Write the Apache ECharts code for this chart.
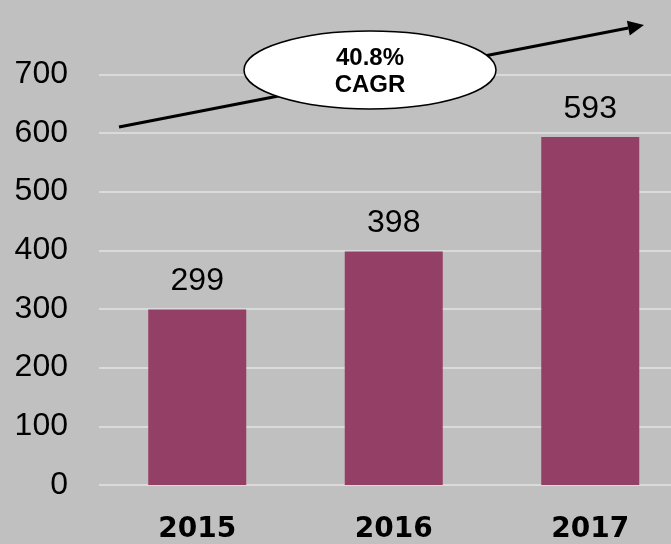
<!DOCTYPE html>
<html>
<head>
<meta charset="utf-8">
<script src="https://cdn.jsdelivr.net/npm/echarts@6/dist/echarts.min.js"></script>
<style>
  html, body { margin: 0; padding: 0; background: #c0c0c0; overflow: hidden; }
  /* the plot area runs slightly past the right edge of the window */
  #chart { width: 689px; height: 544px; }
</style>
</head>
<body>
<div id="chart"></div>
<script>
// Annual totals by year
const years = ['2015', '2016', '2017'];
const totals = [299, 398, 593];
const yTicks = [0, 100, 200, 300, 400, 500, 600, 700];
const growthLabel = ['40.8%', 'CAGR'];

const chart = echarts.init(document.getElementById('chart'));

// Growth arrow geometry (annotation layer)
const arrowStart = [119, 127];
const arrowTip = [644, 25];
const headLen = 16, headHalf = 7.5;
const dx = arrowTip[0] - arrowStart[0], dy = arrowTip[1] - arrowStart[1];
const len = Math.hypot(dx, dy);
const ux = dx / len, uy = dy / len;
const base = [arrowTip[0] - ux * headLen, arrowTip[1] - uy * headLen];
const head = [
  arrowTip,
  [base[0] - uy * headHalf, base[1] + ux * headHalf],
  [base[0] + uy * headHalf, base[1] - ux * headHalf]
];

chart.setOption({
  backgroundColor: '#c0c0c0',
  animation: false,
  grid: { left: 99, top: 74.3, width: 589.5, height: 414.4, containLabel: false },
  xAxis: {
    type: 'category',
    data: years,
    axisLine: { show: false },
    axisTick: { show: false },
    axisLabel: {
      margin: 31,
      color: '#000',
      fontFamily: 'DejaVu Sans',
      fontWeight: 'bold',
      fontSize: 28
    }
  },
  yAxis: {
    type: 'value',
    min: yTicks[0],
    max: yTicks[yTicks.length - 1],
    interval: 100,
    axisLine: { show: false },
    axisTick: { show: false },
    axisLabel: {
      margin: 31,
      color: '#000',
      fontFamily: 'Liberation Sans',
      fontSize: 32
    },
    splitLine: { lineStyle: { color: '#dadada', width: 2 } }
  },
  series: [{
    type: 'bar',
    data: totals,
    barWidth: 98,
    itemStyle: { color: '#943f66' },
    label: {
      show: true,
      position: 'top',
      distance: 12,
      color: '#000',
      fontFamily: 'Liberation Sans',
      fontSize: 32
    }
  }],
  graphic: [
    {
      type: 'line',
      z: 100,
      shape: { x1: arrowStart[0], y1: arrowStart[1], x2: base[0], y2: base[1] },
      style: { stroke: '#000', lineWidth: 3 }
    },
    {
      type: 'polygon',
      z: 100,
      shape: { points: head },
      style: { fill: '#000' }
    },
    {
      type: 'ellipse',
      z: 101,
      shape: { cx: 370, cy: 70, rx: 126, ry: 39 },
      style: { fill: '#fff', stroke: '#000', lineWidth: 1.5 }
    },
    {
      type: 'text',
      z: 102,
      x: 370,
      y: 71.5,
      style: {
        text: growthLabel.join('\n'),
        fill: '#000',
        font: 'bold 24px "Liberation Sans"',
        lineHeight: 27,
        align: 'center',
        verticalAlign: 'middle'
      }
    }
  ]
});
</script>
</body>
</html>
